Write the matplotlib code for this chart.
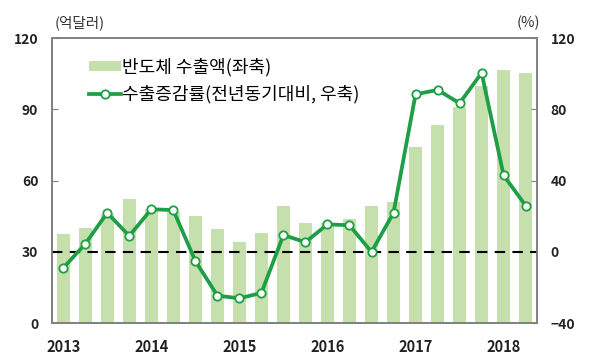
import matplotlib.pyplot as plt
import numpy as np

plt.rcParams['font.family'] = ['Noto Sans CJK KR', 'DejaVu Sans']

# === Data (quarterly, 2013 Q1 - 2018 Q2) ===
years = ['2013', '2014', '2015', '2016', '2017', '2018']
exports = [37.5, 40, 46, 52.5, 48, 47, 45, 39.5, 34, 38, 49.5,
           42, 42, 44, 49.5, 51, 74, 83.5, 91, 100, 106.5, 105.5]
growth = [-9, 4.5, 22, 9, 24, 23.5, -5, -24.5, -26, -23, 9.5,
          5.5, 15.5, 15, 0, 22, 88.5, 91, 83.5, 100.5, 43, 26]

bar_color = '#c5dfad'
line_color = '#1e9e45'
spine_color = '#808080'

fig, ax = plt.subplots(figsize=(5.93, 3.64), dpi=100)
fig.subplots_adjust(left=0.088, right=0.905, top=0.895, bottom=0.112)
ax2 = ax.twinx()

x = np.arange(len(exports))
ax.bar(x, exports, width=0.6, color=bar_color, label='반도체 수출액(좌축)', zorder=1)
ax2.axhline(0, color='black', lw=1.5, ls=(0, (5, 3.5)), zorder=2)
ax2.plot(x, growth, color=line_color, lw=2.7, marker='o', ms=6,
         mfc='white', mec=line_color, mew=1.3, zorder=3,
         label='수출증감률(전년동기대비, 우축)')

ax.set_xlim(-0.5, len(exports) - 0.5)
ax.set_ylim(0, 120)
ax.set_yticks([0, 30, 60, 90, 120])
ax2.set_ylim(-40, 120)
ax2.set_yticks([-40, 0, 40, 80, 120])
ax.set_xticks(np.arange(0, len(exports), 4))
ax.set_xticklabels(years)

for a in (ax, ax2):
    for s in a.spines.values():
        s.set_color(spine_color)
        s.set_linewidth(1.2)
ax.tick_params(axis='x', length=0, pad=11, labelsize=10.5)
ax.tick_params(axis='y', direction='in', length=4, color=spine_color, pad=10, labelsize=10)
ax2.tick_params(axis='y', direction='in', length=4, color=spine_color, pad=10, labelsize=10)
for lab in ax.get_xticklabels() + ax.get_yticklabels() + ax2.get_yticklabels():
    lab.set_fontweight('bold')
    lab.set_color('#222222')

fig.text(0.092, 0.925, '(억달러)', fontsize=10.5, color='#333333')
fig.text(0.872, 0.925, '(%)', fontsize=10.5, color='#333333')

h1, l1 = ax.get_legend_handles_labels()
h2, l2 = ax2.get_legend_handles_labels()
ax2.legend(h1 + h2, l1 + l2, loc='upper left', bbox_to_anchor=(0.076, 0.93),
           frameon=False, fontsize=13, handlelength=1.75, handletextpad=0.1,
           labelspacing=0.45, borderpad=0, borderaxespad=0, handleheight=0.5)

fig.savefig('out.png', dpi=100)
